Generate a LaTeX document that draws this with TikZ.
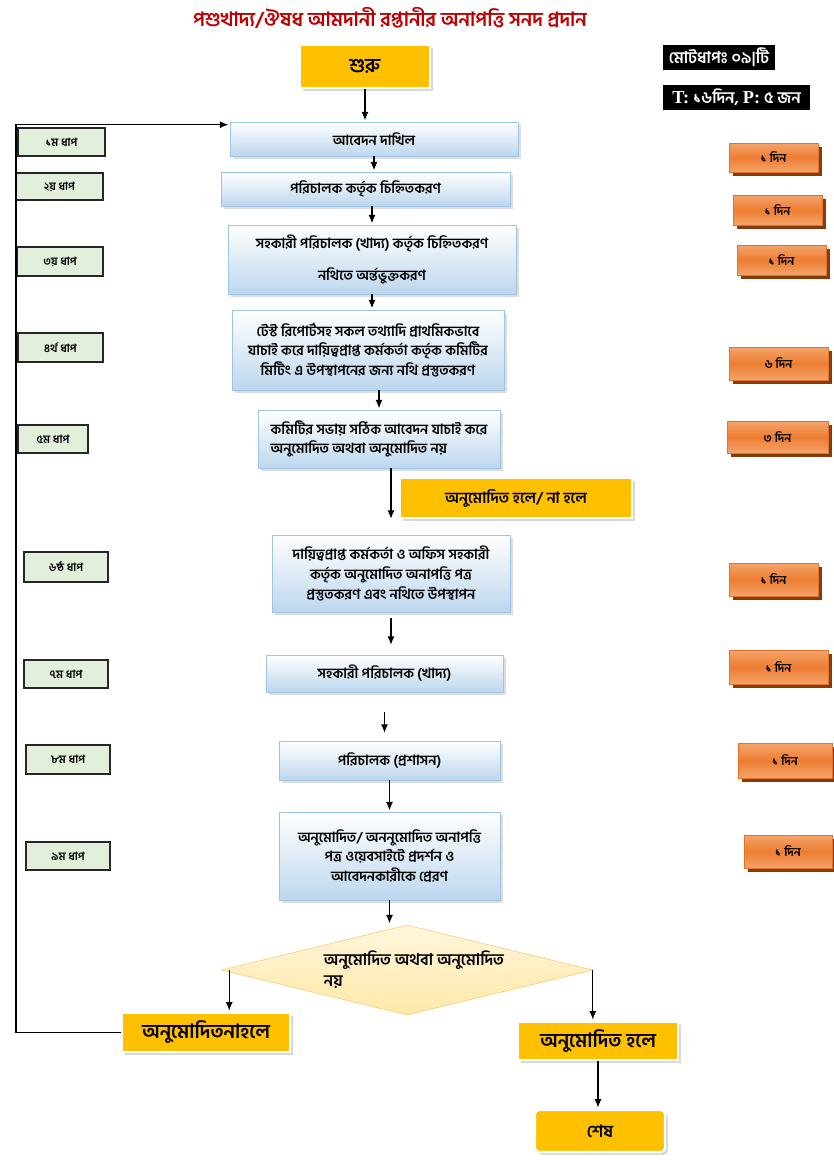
\documentclass[tikz,border=0pt]{standalone}
\usepackage{fontspec}
\setmainfont[Script=Bengali]{Hind Siliguri}
\newfontfamily\latn{Liberation Serif}
\usetikzlibrary{arrows.meta,positioning,calc,shapes.geometric,shadows}

\definecolor{procline}{HTML}{9DC3E6}
\definecolor{procfill}{HTML}{BDD7EE}
\definecolor{gold}{HTML}{FFC000}
\definecolor{tagfill}{HTML}{E2EFDA}
\definecolor{dayfill}{HTML}{ED7D31}
\definecolor{daylight}{HTML}{F4A46C}
\definecolor{dayline}{HTML}{E8712A}
\definecolor{dayshadow}{HTML}{843C0C}
\definecolor{decfill}{HTML}{FFE9A8}
\definecolor{decline}{HTML}{F8CB6A}
\definecolor{titlered}{HTML}{C00000}

\begin{document}
\begin{tikzpicture}
[x=0.025cm,y=-0.025cm,shorten >=1pt,>={Latex[length=6pt,width=5pt]},
 boxsize/.style 2 args={minimum width=#1*0.025cm,minimum height=#2*0.025cm},
 procbox/.style={draw=procline,top color=white,bottom color=procfill,inner sep=2pt,
   font=\fontsize{10}{14}\selectfont\bfseries,align=center,
   drop shadow={shadow xshift=2pt,shadow yshift=-2pt,fill=black!25}},
 goldbox/.style={draw=white,line width=1.5pt,fill=gold,font=\fontsize{14}{16}\selectfont\bfseries,
   drop shadow={shadow xshift=2pt,shadow yshift=-2pt,fill=black!30}},
 steptag/.style={draw=black!85,line width=1.2pt,fill=tagfill,font=\fontsize{8}{9}\selectfont\bfseries},
 daybox/.style={draw=dayline,top color=daylight,bottom color=daylight,middle color=dayfill,
   font=\fontsize{8.5}{9}\selectfont\bfseries,
   drop shadow={shadow xshift=2.5pt,shadow yshift=-2.5pt,fill=dayshadow,opacity=1}},
 blackbox/.style={fill=black,text=white,font=\fontsize{11.5}{13}\selectfont\bfseries,inner sep=1pt},
 flow/.style={->,line width=0.8pt}]
      \useasboundingbox[fill=white] (0,0) rectangle (834,1160);

      \node[text=titlered,font=\fontsize{14}{16}\selectfont\bfseries] (title) at (390,18) {পশুখাদ্য/ঔষধ আমদানী রপ্তানীর অনাপত্তি সনদ প্রদান};
      \node[blackbox,boxsize={112}{25}] (total) at (719,57.5) {মোটধাপঃ ০৯|টি};
      \node[blackbox,boxsize={147}{25}] (tp) at (736.5,97.5) {{\latn\fontsize{13}{14}\selectfont T:} ১৬দিন, {\latn\fontsize{13}{14}\selectfont P:} ৫ জন};

      \node[goldbox,boxsize={130}{43}] (start) at (365,66.5) {শুরু};
      \node[procbox,boxsize={288}{34}] (s1) at (374,139) {আবেদন দাখিল};
      \node[procbox,boxsize={289}{34}] (s2) at (365.5,189) {পরিচালক কর্তৃক চিহ্নিতকরণ};
      \node[procbox,boxsize={288}{69}] (s3) at (372,259.5) {সহকারী পরিচালক (খাদ্য) কর্তৃক চিহ্নিতকরণ\\[0.3cm]নথিতে অর্ন্তভুক্তকরণ};
      \node[procbox,boxsize={272}{80}] (s4) at (368,350) {টেস্ট রিপোর্টসহ সকল তথ্যাদি প্রাথমিকভাবে\\যাচাই করে দায়িত্বপ্রাপ্ত কর্মকর্তা কর্তৃক কমিটির\\মিটিং এ উপস্থাপনের জন্য নথি প্রস্তুতকরণ};
      \node[procbox,boxsize={242}{58},align=left] (s5) at (379,439) {কমিটির সভায় সঠিক আবেদন যাচাই করে\\অনুমোদিত অথবা অনুমোদিত নয়};
      \node[goldbox,boxsize={232}{40},font=\fontsize{11}{13}\selectfont\bfseries] (ifyes) at (516,498) {অনুমোদিত হলে/ না হলে};
      \node[procbox,boxsize={238}{77}] (s6) at (391,573.5) {দায়িত্বপ্রাপ্ত কর্মকর্তা ও অফিস সহকারী\\কর্তৃক অনুমোদিত অনাপত্তি পত্র\\প্রস্তুতকরণ এবং নথিতে উপস্থাপন};
      \node[procbox,boxsize={237}{37}] (s7) at (384.5,673.5) {সহকারী পরিচালক (খাদ্য)};
      \node[procbox,boxsize={221}{39}] (s8) at (389.5,760.5) {পরিচালক (প্রশাসন)};
      \node[procbox,boxsize={221}{88}] (s9) at (389.5,856) {অনুমোদিত/ অননুমোদিত অনাপত্তি\\পত্র ওয়েবসাইটে প্রদর্শন ও\\আবেদনকারীকে প্রেরণ};
      \node[diamond,draw=decline,top color=decfill!40,bottom color=decfill,boxsize={371}{90},inner sep=0pt] (dec) at (407,970) {};
      \node[align=left,font=\fontsize{11.5}{15}\selectfont\bfseries] (dectext) at (414,970) {অনুমোদিত অথবা অনুমোদিত\\নয়};
      \node[goldbox,boxsize={168}{39}] (no) at (206,1032.5) {অনুমোদিতনাহলে};
      \node[goldbox,boxsize={160}{38}] (yes) at (598,1041) {অনুমোদিত হলে};
      \node[goldbox,boxsize={130}{42},rounded corners=3pt,font=\fontsize{12}{14}\selectfont\bfseries] (finish) at (600,1131) {শেষ};

      \node[steptag,boxsize={87}{28}] (t1) at (61.5,142) {১ম ধাপ};
      \node[steptag,boxsize={87}{27}] (t2) at (59.5,186.5) {২য় ধাপ};
      \node[steptag,boxsize={86}{29}] (t3) at (60,261.5) {৩য় ধাপ};
      \node[steptag,boxsize={85}{29}] (t4) at (60.5,347.5) {৪র্থ ধাপ};
      \node[steptag,boxsize={70}{28}] (t5) at (53,439) {৫ম ধাপ};
      \node[steptag,boxsize={84}{30}] (t6) at (66,567) {৬ষ্ঠ ধাপ};
      \node[steptag,boxsize={84}{28}] (t7) at (66,674) {৭ম ধাপ};
      \node[steptag,boxsize={84}{29}] (t8) at (68,759.5) {৮ম ধাপ};
      \node[steptag,boxsize={84}{28}] (t9) at (68,856) {৯ম ধাপ};

      \node[daybox,boxsize={89}{29}] (d1) at (773.5,157.5) {১ দিন};
      \node[daybox,boxsize={89}{30}] (d2) at (777.5,210) {১ দিন};
      \node[daybox,boxsize={89}{30}] (d3) at (781.5,260) {১ দিন};
      \node[daybox,boxsize={99}{33}] (d4) at (778.5,363.5) {৬ দিন};
      \node[daybox,boxsize={101}{32}] (d5) at (777.5,437) {৩ দিন};
      \node[daybox,boxsize={89}{33}] (d6) at (773.5,579.5) {১ দিন};
      \node[daybox,boxsize={99}{34}] (d7) at (778.5,667) {১ দিন};
      \node[daybox,boxsize={94}{35}] (d8) at (785,760.5) {১ দিন};
      \node[daybox,boxsize={88}{33}] (d9) at (788,851.5) {১ দিন};

      \coordinate (decl) at ($(dec.west)+(8,0)$);
      \coordinate (back) at ($(s1.north west)+(0,3)$);

      \draw[flow] (start.south) -- (start.south |- s1.north);
      \draw[flow] (s1.south) -- (s1.south |- s2.north);
      \draw[flow] (s2.south -| s3.north) -- (s3.north);
      \draw[flow] (s3.south) -- (s3.south |- s4.north);
      \draw[flow] (s4.south -| s5.north) -- (s5.north);
      \draw[flow,shorten >=0.4cm] (s5.south -| s6.north) -- (s6.north);
      \draw[flow,shorten <=0.15cm,shorten >=0.25cm] (s6.south) -- (s6.south |- s7.north);
      \draw[flow,shorten <=0.5cm,shorten >=0.2cm] (s7.south) -- (s7.south |- s8.north);
      \draw[flow] (s8.south) -- (s8.south |- s9.north);
      \draw[flow] (s9.south) -- (s9.south |- dec.north);
      \draw[flow] (decl) -- (decl |- no.north);
      \draw[flow] (dec.east) -- (dec.east |- yes.north);
      \draw[flow] (yes.south) -- (yes.south |- finish.north);
      \draw[flow] (no.west) -- ++(-105,0) |- (back);
\end{tikzpicture}
\end{document}
